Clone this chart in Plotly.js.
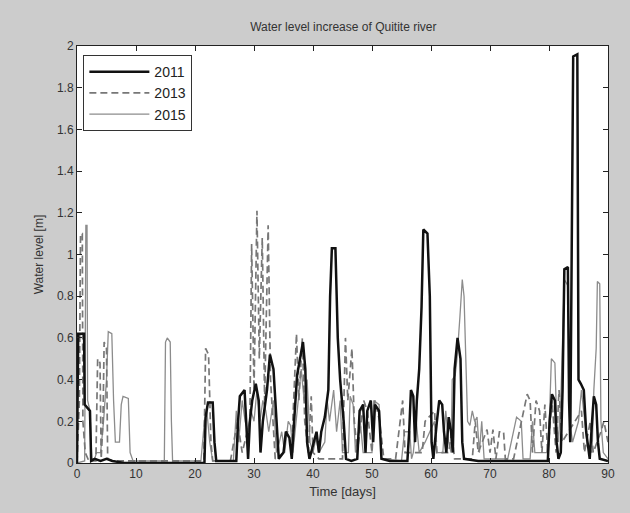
<!DOCTYPE html>
<html>
<head>
<meta charset="utf-8">
<script src="https://cdn.plot.ly/plotly-3.0.1.min.js"></script>
<style>html,body{margin:0;padding:0;background:#cccccc;}#chart{width:630px;height:513px;}</style>
</head>
<body>
<div id="chart"></div>
<script>
// 2011 series (days, water level m)
const t2011 = [0,0.2,1.2,1.3,2.2,2.4,3,4,5,6,8,21.6,21.8,22.2,23,23.3,23.6,25,27,27.3,27.6,28.4,28.7,29.0,29.3,29.7,30.3,30.8,31.1,31.5,32.2,32.7,33.3,33.8,34.2,35,35.4,36,36.4,36.8,37.3,37.8,38.3,38.7,39.0,39.4,40,40.6,41,41.4,42.0,42.6,42.9,43.2,43.8,44.2,44.6,45.2,45.6,46.5,47.5,47.9,48.5,48.9,49.2,49.8,50.2,50.5,51.2,51.6,53,56,56.3,56.6,57,57.3,57.6,58.0,58.4,58.7,59.4,59.8,60.1,60.4,61,61.4,61.9,62.2,62.6,63,63.4,63.7,64.0,64.5,65.0,65.3,65.6,68,72,76,79.8,80.1,80.5,81,81.3,81.6,82.0,82.3,82.6,83.2,83.4,83.6,83.9,84.1,84.8,85.0,85.4,85.9,86.3,86.6,86.9,87.3,87.6,88,88.3,88.6,90];
const v2011 = [0,0.62,0.62,0.28,0.25,0.01,0.02,0.01,0.02,0.01,0,0,0.22,0.29,0.29,0.1,0.01,0.01,0.01,0.2,0.32,0.35,0.15,0.02,0.2,0.3,0.38,0.3,0.05,0.2,0.35,0.52,0.45,0.2,0.02,0.05,0.15,0.12,0.02,0.2,0.42,0.5,0.58,0.45,0.1,0.02,0.08,0.15,0.05,0.15,0.22,0.35,0.8,1.03,1.03,0.6,0.4,0.2,0.02,0.01,0.02,0.25,0.28,0.05,0.25,0.3,0.1,0.28,0.25,0.02,0.01,0.01,0.15,0.35,0.32,0.1,0.3,0.45,0.75,1.12,1.1,0.8,0.1,0.02,0.2,0.3,0.28,0.15,0.05,0.22,0.15,0.05,0.45,0.6,0.5,0.1,0.02,0.01,0.01,0.01,0.01,0.2,0.33,0.3,0.1,0.02,0.05,0.35,0.93,0.94,0.3,0.1,1.5,1.95,1.96,0.4,0.38,0.35,0.15,0.08,0.02,0.2,0.32,0.28,0.1,0.02,0.01];

// 2013 series
const t2013 = [0,0.4,0.6,0.9,1.0,1.4,2,3.2,3.5,3.9,4.1,4.4,4.6,5.0,5.2,6,21.5,21.8,22.3,22.7,23,26,27.2,27.6,28,29.3,29.6,30.0,30.5,30.9,31.4,31.8,32.4,32.8,33.2,33.6,35,35.5,36.5,37.2,37.6,38.2,38.6,39.2,39.7,40.0,41,45,45.5,45.9,46.6,47,47.5,48.6,49.2,50,50.5,51.3,52,54,55.2,55.6,58.5,59,60.6,61,63,63.5,64,67,67.5,68,69.5,70,70.5,71,71.6,72.3,72.6,74,76.3,76.8,77.2,77.8,78.4,78.8,79.3,79.8,80.5,81.2,81.7,82.2,85.5,86,87,87.5,88.8,89.3,90];
const v2013 = [0,0.3,1.1,1.1,0.2,0.05,0.01,0.01,0.5,0.48,0.02,0.2,0.58,0.55,0.02,0.01,0.01,0.55,0.52,0.1,0.01,0.01,0.2,0.12,0.05,0.2,1.05,0.35,1.21,0.5,1.08,0.3,1.14,0.4,0.2,0.02,0.05,0.15,0.15,0.62,0.3,0.6,0.2,0.05,0.32,0.05,0.02,0.02,0.6,0.3,0.55,0.2,0.05,0.3,0.25,0.05,0.3,0.2,0.02,0.02,0.3,0.05,0.05,0.2,0.25,0.05,0.05,0.15,0.02,0.02,0.2,0.05,0.16,0.05,0.16,0.02,0.15,0.15,0.02,0.02,0.33,0.3,0.05,0.3,0.25,0.05,0.28,0.05,0.3,0.05,0.35,0.1,0.25,0.05,0.2,0.05,0.15,0.2,0.1];

// 2015 series
const t2015 = [0,1.3,1.5,1.7,1.8,2.2,2.5,3,3.3,4,4.5,5.0,5.3,5.9,6.2,6.5,7.2,7.5,7.8,8.7,9.0,9.5,14.8,15.0,15.3,15.8,16.0,16.2,21,21.6,22,22.5,23,26.5,27,27.4,28,28.5,29,29.5,30,30.5,31,31.5,32,32.5,33.3,33.8,34.3,34.7,35.2,35.8,36.2,36.6,37.5,38,38.5,39,39.5,40,40.5,41,42,42.4,42.8,43.5,44.0,44.6,45,46,46.3,46.8,47.2,48,48.5,50,50.3,51.2,51.6,55,55.5,56.4,56.7,57,57.5,58,59,60.6,61,62,62.5,63,63.4,63.6,64.1,64.4,64.9,65.3,65.6,65.9,66.2,66.6,67,67.4,67.8,68.2,68.6,69,73,74.5,75.3,75.6,76.8,77.2,77.6,79.6,80,80.4,81,81.3,81.6,82,82.6,83.2,83.5,84,85,85.5,86,86.5,87.3,87.6,88,88.2,88.6,88.8,89.2,90];
const v2015 = [0,0.01,1.14,1.14,0.3,0.25,0.02,0.02,0.05,0.05,0.2,0.4,0.63,0.62,0.3,0.1,0.1,0.28,0.32,0.31,0.05,0.01,0.01,0.58,0.6,0.58,0.2,0.01,0.01,0.2,0.25,0.1,0.01,0.01,0.25,0.1,0.3,0.2,0.15,0.25,0.2,0.35,0.2,0.3,0.25,0.15,0.3,0.05,0.1,0.15,0.05,0.2,0.18,0.05,0.3,0.45,0.3,0.4,0.1,0.05,0.12,0.05,0.1,0.3,0.2,0.35,0.15,0.3,0.05,0.05,0.32,0.28,0.05,0.2,0.05,0.05,0.3,0.28,0.02,0.01,0.15,0.15,0.02,0.05,0.2,0.05,0.1,0.2,0.05,0.05,0.25,0.1,0.05,0.4,0.42,0.5,0.7,0.88,0.8,0.5,0.2,0.18,0.25,0.2,0.22,0.05,0.2,0.02,0.02,0.22,0.2,0.02,0.02,0.2,0.05,0.05,0.15,0.5,0.48,0.2,0.1,0.3,0.88,0.85,0.2,0.1,0.2,0.35,0.2,0.08,0.05,0.35,0.55,0.87,0.86,0.2,0.05,0.02];

const seriesNames = ['2011','2013','2015'];
const xTicks = [0,10,20,30,40,50,60,70,80,90];
const yTicks = [0,0.2,0.4,0.6,0.8,1,1.2,1.4,1.6,1.8,2];
const yTickText = ['0','0.2','0.4','0.6','0.8','1','1.2','1.4','1.6','1.8','2'];

const traces = [
  {x: t2015, y: v2015, name: seriesNames[2], mode: 'lines', line: {color: '#8c8c8c', width: 1.3}},
  {x: t2013, y: v2013, name: seriesNames[1], mode: 'lines', line: {color: '#777777', width: 1.7, dash: '7px,4px'}},
  {x: t2011, y: v2011, name: seriesNames[0], mode: 'lines', line: {color: '#111111', width: 2.5}}
];

const fam = 'Liberation Sans, Arial, sans-serif';
const axisCommon = {
  showline: true, linecolor: '#222', linewidth: 1, mirror: 'allticks',
  ticks: 'inside', ticklen: 5, tickcolor: '#222', showgrid: false, zeroline: false,
  tickfont: {family: fam, size: 12, color: '#333'}
};

const layout = {
  width: 630, height: 513,
  paper_bgcolor: '#cccccc', plot_bgcolor: '#ffffff',
  margin: {l: 77, r: 22, t: 46, b: 50},
  title: {text: 'Water level increase of Quitite river', x: 0.545, xanchor: 'center', y: 0.948, yanchor: 'middle',
          font: {family: fam, size: 12, color: '#333'}},
  xaxis: Object.assign({}, axisCommon, {range: [0, 90], tickvals: xTicks,
          title: {text: 'Time [days]', standoff: 6, font: {family: fam, size: 13, color: '#333'}}}),
  yaxis: Object.assign({}, axisCommon, {range: [0, 2], tickvals: yTicks, ticktext: yTickText,
          title: {text: 'Water level [m]', standoff: 10, font: {family: fam, size: 12, color: '#333'}}}),
  showlegend: true,
  legend: {x: 0.012, y: 0.978, xanchor: 'left', yanchor: 'top', traceorder: 'reversed',
           bgcolor: '#ffffff', bordercolor: '#333', borderwidth: 1,
           font: {family: fam, size: 14, color: '#222'},
           itemwidth: 60, tracegroupgap: 0}
};

Plotly.newPlot('chart', traces, layout, {displayModeBar: false, staticPlot: true});
</script>
</body>
</html>
